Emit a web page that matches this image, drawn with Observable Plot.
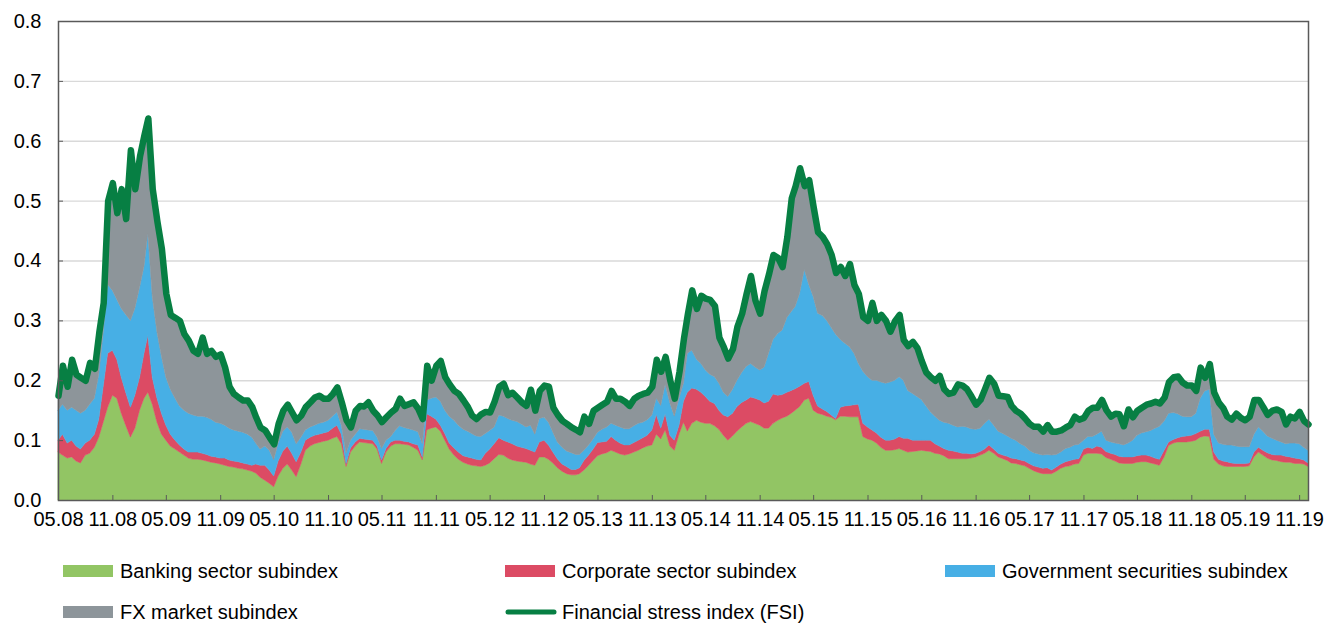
<!DOCTYPE html>
<html><head><meta charset="utf-8">
<script src="https://cdn.jsdelivr.net/npm/d3@7"></script>
<script src="https://cdn.jsdelivr.net/npm/@observablehq/plot@0.6"></script>
<style>
html,body{margin:0;padding:0;background:#fff;}
body{font-family:"Liberation Sans",Arial,sans-serif;width:1327px;height:623px;overflow:hidden;}
#chart svg{display:block}
#legend{position:relative;height:83px;font-size:20px;color:#000}
.item{position:absolute;display:flex;align-items:center;white-space:nowrap;height:24px}
.sw{width:50px;height:12px;margin-right:7px;flex:none}
</style></head><body>
<div id="chart"></div>
<div id="legend"></div>
<script>
// ---- Data (semi-monthly readings, 1st and 16th of each month, from 05.2008) ----
const seriesNames = ["Banking sector subindex", "Corporate sector subindex", "Government securities subindex", "FX market subindex"];
const lineName = "Financial stress index (FSI)";
const tickLabels = ["05.08","11.08","05.09","11.09","05.10","11.10","05.11","11.11","05.12","11.12","05.13","11.13","05.14","11.14","05.15","11.15","05.16","11.16","05.17","11.17","05.18","11.18","05.19","11.19"];
const yTicks = [0, 0.1, 0.2, 0.3, 0.4, 0.5, 0.6, 0.7, 0.8];
const yTickLabels = ["0.0","0.1","0.2","0.3","0.4","0.5","0.6","0.7","0.8"];

const banking = [
0.080,0.075,0.070,0.072,0.065,0.062,0.075,0.078,0.088,0.105,
0.130,0.155,0.175,0.170,0.145,0.125,0.105,0.120,0.150,0.170,
0.180,0.160,0.130,0.110,0.100,0.090,0.085,0.080,0.075,0.070,
0.068,0.068,0.067,0.065,0.063,0.062,0.060,0.058,0.056,0.055,
0.053,0.052,0.050,0.048,0.045,0.038,0.033,0.028,0.022,0.040,
0.053,0.060,0.050,0.039,0.060,0.083,0.090,0.094,0.096,0.098,
0.100,0.103,0.106,0.094,0.056,0.080,0.090,0.097,0.096,0.095,
0.094,0.085,0.061,0.080,0.090,0.094,0.094,0.093,0.092,0.088,
0.083,0.067,0.117,0.120,0.122,0.115,0.100,0.085,0.075,0.068,
0.063,0.060,0.058,0.057,0.056,0.058,0.062,0.069,0.076,0.075,
0.070,0.067,0.065,0.064,0.063,0.060,0.058,0.072,0.072,0.068,
0.062,0.054,0.048,0.044,0.042,0.042,0.044,0.050,0.058,0.066,
0.074,0.077,0.079,0.083,0.080,0.077,0.075,0.077,0.080,0.083,
0.087,0.090,0.092,0.110,0.102,0.117,0.090,0.083,0.110,0.130,
0.115,0.128,0.133,0.130,0.128,0.128,0.124,0.118,0.108,0.100,
0.107,0.115,0.122,0.128,0.131,0.128,0.125,0.120,0.120,0.128,
0.133,0.137,0.140,0.145,0.150,0.156,0.167,0.170,0.150,0.145,
0.143,0.140,0.138,0.134,0.140,0.140,0.139,0.139,0.139,0.106,
0.102,0.100,0.095,0.088,0.083,0.083,0.084,0.086,0.083,0.080,
0.081,0.082,0.083,0.082,0.081,0.078,0.077,0.074,0.069,0.069,
0.069,0.069,0.069,0.070,0.072,0.075,0.078,0.083,0.078,0.072,
0.069,0.066,0.062,0.061,0.059,0.057,0.053,0.049,0.046,0.044,
0.044,0.044,0.048,0.053,0.056,0.057,0.060,0.061,0.075,0.078,
0.078,0.078,0.077,0.071,0.068,0.065,0.062,0.061,0.061,0.061,
0.063,0.064,0.064,0.062,0.060,0.058,0.072,0.091,0.095,0.097,
0.097,0.097,0.098,0.100,0.105,0.107,0.106,0.068,0.060,0.057,
0.056,0.056,0.056,0.056,0.056,0.057,0.072,0.080,0.075,0.070,
0.067,0.066,0.064,0.063,0.063,0.061,0.061,0.060,0.056];

const corporate = [
0.020,0.035,0.025,0.028,0.025,0.023,0.020,0.022,0.022,0.030,
0.060,0.090,0.075,0.065,0.060,0.055,0.050,0.055,0.055,0.075,
0.095,0.045,0.040,0.035,0.025,0.020,0.015,0.012,0.010,0.010,
0.012,0.012,0.011,0.011,0.010,0.010,0.010,0.012,0.011,0.010,
0.011,0.010,0.010,0.010,0.015,0.020,0.025,0.022,0.018,0.025,
0.029,0.030,0.028,0.025,0.020,0.017,0.015,0.014,0.014,0.014,
0.014,0.017,0.019,0.016,0.005,0.007,0.007,0.006,0.006,0.006,
0.006,0.005,0.006,0.006,0.007,0.006,0.006,0.005,0.005,0.006,
0.009,0.005,0.027,0.020,0.013,0.010,0.011,0.010,0.012,0.012,
0.011,0.012,0.012,0.011,0.011,0.020,0.023,0.025,0.028,0.025,
0.027,0.027,0.025,0.024,0.023,0.023,0.022,0.025,0.028,0.024,
0.018,0.015,0.012,0.012,0.009,0.009,0.010,0.016,0.017,0.019,
0.022,0.020,0.019,0.023,0.020,0.018,0.017,0.015,0.016,0.017,
0.017,0.018,0.025,0.033,0.018,0.027,0.018,0.017,0.015,0.035,
0.065,0.059,0.052,0.050,0.045,0.037,0.037,0.032,0.034,0.039,
0.038,0.041,0.041,0.039,0.041,0.042,0.042,0.042,0.045,0.049,
0.042,0.039,0.040,0.038,0.036,0.034,0.028,0.028,0.025,0.012,
0.009,0.008,0.004,0.002,0.015,0.017,0.019,0.020,0.021,0.022,
0.020,0.017,0.017,0.017,0.017,0.017,0.018,0.020,0.020,0.023,
0.019,0.018,0.017,0.018,0.019,0.016,0.013,0.012,0.014,0.013,
0.011,0.009,0.009,0.007,0.006,0.006,0.007,0.009,0.007,0.006,
0.006,0.007,0.008,0.008,0.008,0.008,0.008,0.008,0.009,0.009,
0.010,0.006,0.007,0.007,0.008,0.009,0.008,0.008,0.010,0.010,
0.008,0.012,0.011,0.010,0.010,0.011,0.011,0.011,0.011,0.011,
0.011,0.011,0.011,0.011,0.010,0.010,0.011,0.006,0.006,0.007,
0.009,0.010,0.010,0.011,0.010,0.011,0.012,0.012,0.008,0.008,
0.008,0.006,0.005,0.005,0.005,0.005,0.008,0.008,0.008,0.009,
0.009,0.009,0.011,0.010,0.009,0.009,0.008,0.007,0.006];

const government = [
0.050,0.050,0.055,0.055,0.060,0.060,0.055,0.060,0.060,0.075,
0.090,0.115,0.100,0.100,0.115,0.130,0.145,0.145,0.150,0.145,
0.170,0.135,0.110,0.095,0.080,0.075,0.070,0.065,0.065,0.065,
0.062,0.060,0.062,0.062,0.062,0.058,0.058,0.055,0.053,0.052,
0.051,0.051,0.050,0.047,0.035,0.027,0.032,0.033,0.027,0.030,
0.033,0.032,0.035,0.030,0.025,0.017,0.017,0.017,0.018,0.018,
0.019,0.020,0.022,0.015,0.017,0.013,0.013,0.016,0.016,0.016,
0.016,0.015,0.019,0.014,0.009,0.016,0.024,0.023,0.022,0.023,
0.022,0.022,0.023,0.030,0.037,0.040,0.039,0.045,0.046,0.045,
0.044,0.043,0.041,0.039,0.039,0.033,0.031,0.028,0.038,0.040,
0.039,0.039,0.041,0.039,0.036,0.042,0.030,0.039,0.038,0.038,
0.033,0.028,0.028,0.026,0.028,0.025,0.022,0.017,0.017,0.017,
0.017,0.021,0.024,0.022,0.025,0.027,0.027,0.027,0.028,0.028,
0.026,0.026,0.025,0.027,0.038,0.049,0.054,0.040,0.045,0.030,
0.065,0.063,0.050,0.048,0.044,0.045,0.045,0.045,0.038,0.034,
0.040,0.044,0.050,0.056,0.056,0.052,0.050,0.060,0.080,0.091,
0.103,0.108,0.125,0.132,0.137,0.155,0.190,0.162,0.165,0.155,
0.156,0.152,0.146,0.141,0.113,0.105,0.098,0.086,0.068,0.087,
0.084,0.083,0.088,0.092,0.095,0.097,0.098,0.100,0.097,0.080,
0.078,0.073,0.068,0.058,0.047,0.046,0.043,0.044,0.045,0.043,
0.042,0.045,0.044,0.042,0.040,0.039,0.043,0.043,0.040,0.037,
0.036,0.034,0.033,0.031,0.027,0.025,0.022,0.022,0.022,0.022,
0.022,0.025,0.021,0.020,0.022,0.022,0.024,0.024,0.015,0.018,
0.020,0.020,0.027,0.019,0.019,0.019,0.021,0.020,0.023,0.028,
0.034,0.037,0.039,0.043,0.050,0.055,0.049,0.048,0.045,0.040,
0.034,0.032,0.031,0.034,0.055,0.064,0.067,0.030,0.027,0.028,
0.028,0.030,0.029,0.028,0.028,0.027,0.030,0.034,0.032,0.028,
0.027,0.025,0.022,0.021,0.023,0.025,0.025,0.021,0.021];

const fxMarket = [
0.025,0.065,0.040,0.080,0.060,0.060,0.050,0.070,0.050,0.070,
0.050,0.140,0.180,0.145,0.200,0.160,0.285,0.200,0.220,0.220,
0.193,0.180,0.185,0.180,0.140,0.125,0.135,0.143,0.128,0.122,
0.108,0.105,0.132,0.107,0.115,0.110,0.116,0.097,0.070,0.061,
0.057,0.054,0.057,0.051,0.044,0.037,0.027,0.022,0.027,0.033,
0.035,0.038,0.034,0.040,0.037,0.039,0.042,0.047,0.047,0.040,
0.037,0.038,0.042,0.039,0.056,0.022,0.040,0.039,0.039,0.047,
0.034,0.037,0.045,0.039,0.041,0.037,0.046,0.037,0.042,0.047,
0.039,0.042,0.058,0.030,0.053,0.068,0.056,0.054,0.050,0.053,
0.049,0.041,0.031,0.029,0.038,0.037,0.031,0.043,0.048,0.055,
0.040,0.047,0.041,0.037,0.036,0.060,0.040,0.047,0.054,0.060,
0.042,0.046,0.045,0.046,0.043,0.042,0.038,0.057,0.036,0.048,
0.042,0.042,0.043,0.055,0.045,0.048,0.046,0.039,0.046,0.047,
0.048,0.046,0.048,0.065,0.057,0.047,0.038,0.030,0.045,0.075,
0.065,0.101,0.085,0.114,0.120,0.125,0.119,0.077,0.076,0.064,
0.068,0.090,0.099,0.122,0.147,0.112,0.095,0.128,0.133,0.142,
0.127,0.106,0.135,0.190,0.202,0.210,0.140,0.175,0.150,0.136,
0.132,0.128,0.122,0.103,0.122,0.113,0.139,0.115,0.117,0.091,
0.094,0.130,0.100,0.113,0.105,0.085,0.100,0.104,0.068,0.075,
0.087,0.082,0.065,0.056,0.059,0.060,0.075,0.056,0.050,0.055,
0.072,0.069,0.064,0.055,0.042,0.048,0.058,0.070,0.070,0.060,
0.063,0.066,0.055,0.050,0.051,0.047,0.045,0.044,0.046,0.040,
0.050,0.040,0.039,0.037,0.036,0.038,0.048,0.042,0.038,0.044,
0.049,0.045,0.053,0.051,0.043,0.050,0.050,0.032,0.057,0.039,
0.042,0.043,0.046,0.046,0.045,0.039,0.040,0.053,0.060,0.063,
0.057,0.053,0.053,0.038,0.052,0.023,0.043,0.070,0.068,0.061,
0.048,0.043,0.055,0.049,0.045,0.051,0.058,0.046,0.041,0.036,
0.047,0.052,0.051,0.033,0.045,0.042,0.054,0.045,0.044];

const fsi = [
0.175,0.225,0.190,0.235,0.210,0.205,0.200,0.230,0.220,0.280,
0.330,0.500,0.530,0.480,0.520,0.470,0.585,0.520,0.575,0.610,
0.638,0.520,0.465,0.420,0.345,0.310,0.305,0.300,0.278,0.267,
0.250,0.245,0.272,0.245,0.250,0.240,0.244,0.222,0.190,0.178,
0.172,0.167,0.167,0.156,0.139,0.122,0.117,0.105,0.094,0.128,
0.150,0.160,0.147,0.134,0.142,0.156,0.164,0.172,0.175,0.170,
0.170,0.178,0.189,0.164,0.134,0.122,0.150,0.158,0.157,0.164,
0.150,0.142,0.131,0.139,0.147,0.153,0.170,0.158,0.161,0.164,
0.153,0.136,0.225,0.200,0.225,0.233,0.206,0.194,0.183,0.178,
0.167,0.156,0.142,0.136,0.144,0.148,0.147,0.165,0.190,0.195,
0.176,0.180,0.172,0.164,0.158,0.185,0.150,0.183,0.192,0.190,
0.155,0.143,0.133,0.128,0.122,0.118,0.114,0.140,0.128,0.150,
0.155,0.160,0.165,0.183,0.170,0.170,0.165,0.158,0.170,0.175,
0.178,0.180,0.190,0.235,0.215,0.240,0.200,0.170,0.215,0.270,
0.310,0.351,0.320,0.342,0.337,0.335,0.325,0.272,0.256,0.237,
0.253,0.290,0.312,0.345,0.375,0.334,0.312,0.350,0.378,0.410,
0.405,0.390,0.440,0.505,0.525,0.555,0.525,0.535,0.490,0.448,
0.440,0.428,0.410,0.380,0.390,0.375,0.395,0.360,0.345,0.306,
0.300,0.330,0.300,0.310,0.300,0.282,0.300,0.310,0.268,0.258,
0.265,0.255,0.233,0.214,0.206,0.200,0.208,0.186,0.178,0.180,
0.194,0.192,0.186,0.174,0.160,0.168,0.186,0.205,0.195,0.175,
0.174,0.173,0.158,0.150,0.145,0.137,0.128,0.123,0.123,0.115,
0.126,0.115,0.115,0.117,0.122,0.126,0.140,0.135,0.138,0.150,
0.155,0.155,0.168,0.151,0.140,0.145,0.144,0.124,0.152,0.139,
0.150,0.155,0.160,0.162,0.165,0.162,0.172,0.198,0.206,0.207,
0.197,0.192,0.192,0.183,0.222,0.205,0.228,0.180,0.163,0.154,
0.140,0.135,0.145,0.138,0.134,0.140,0.168,0.168,0.156,0.143,
0.150,0.152,0.148,0.127,0.140,0.137,0.148,0.133,0.127];

const seriesColors = ["#92C564", "#DC4B64", "#47AFE5", "#8D959A"];
const lineColor = "#077F43";

// ---- Build tables ----
const dates = banking.map((_, i) => new Date(Date.UTC(2008, 4 + Math.floor(i / 2), i % 2 ? 16 : 1)));
const seriesValues = [banking, corporate, government, fxMarket];
const stacked = seriesNames.flatMap((name, s) => seriesValues[s].map((v, i) => ({date: dates[i], value: v, series: name})));
const fsiRows = fsi.map((v, i) => ({date: dates[i], value: v}));
const tickDates = tickLabels.map((_, k) => new Date(Date.UTC(2008, 4 + 6 * k, 1)));
const xLabelOf = new Map(tickDates.map((d, k) => [+d, tickLabels[k]]));
const yLabelOf = new Map(yTicks.map((v, k) => [v, yTickLabels[k]]));

const chart = Plot.plot({
  width: 1327,
  height: 540,
  marginTop: 21,
  marginBottom: 40,
  marginLeft: 58,
  marginRight: 19,
  style: {fontFamily: '"Liberation Sans", Arial, sans-serif', fontSize: "20px", color: "#000", background: "#fff", overflow: "visible"},
  x: {type: "utc", domain: [dates[0], dates[dates.length - 1]], label: null},
  y: {domain: [0, 0.8], label: null},
  color: {domain: seriesNames, range: seriesColors},
  marks: [
    Plot.ruleY(yTicks.slice(1, -1), {stroke: "#d9d9d9", strokeWidth: 1.3}),
    Plot.areaY(stacked, {x: "date", y: "value", z: "series", fill: "series", stroke: "series", strokeWidth: 0.5, order: seriesNames}),
    Plot.line(fsiRows, {x: "date", y: "value", stroke: lineColor, strokeWidth: 6.5, strokeLinejoin: "round", strokeLinecap: "round"}),
    Plot.frame({stroke: "#595959", strokeWidth: 1.5}),
    Plot.axisY({ticks: yTicks, tickSize: -5, tickPadding: 22, tickFormat: d => yLabelOf.get(d), stroke: "#595959", fill: "#000"}),
    Plot.axisX({ticks: tickDates, tickSize: -5, tickPadding: 16, tickFormat: d => xLabelOf.get(+d), stroke: "#595959", fill: "#000"})
  ]
});
document.getElementById("chart").appendChild(chart);

// ---- Legend ----
const legend = document.getElementById("legend");
const legendItems = [
  {name: seriesNames[0], color: seriesColors[0], left: 63, top: 19},
  {name: seriesNames[1], color: seriesColors[1], left: 505, top: 19},
  {name: seriesNames[2], color: seriesColors[2], left: 945, top: 19},
  {name: seriesNames[3], color: seriesColors[3], left: 63, top: 60},
  {name: lineName, color: lineColor, left: 505, top: 60, line: true}
];
for (const it of legendItems) {
  const el = document.createElement("div");
  el.className = "item";
  el.style.left = it.left + "px";
  el.style.top = it.top + "px";
  if (it.line) {
    el.innerHTML = `<svg width="52" height="12" style="margin-right:5px;flex:none"><line x1="3" y1="6" x2="49" y2="6" stroke="${it.color}" stroke-width="5" stroke-linecap="round"/></svg>`;
  } else {
    const sw = document.createElement("div");
    sw.className = "sw";
    sw.style.background = it.color;
    el.appendChild(sw);
  }
  const t = document.createElement("span");
  t.textContent = it.name;
  el.appendChild(t);
  legend.appendChild(el);
}
</script></body></html>
